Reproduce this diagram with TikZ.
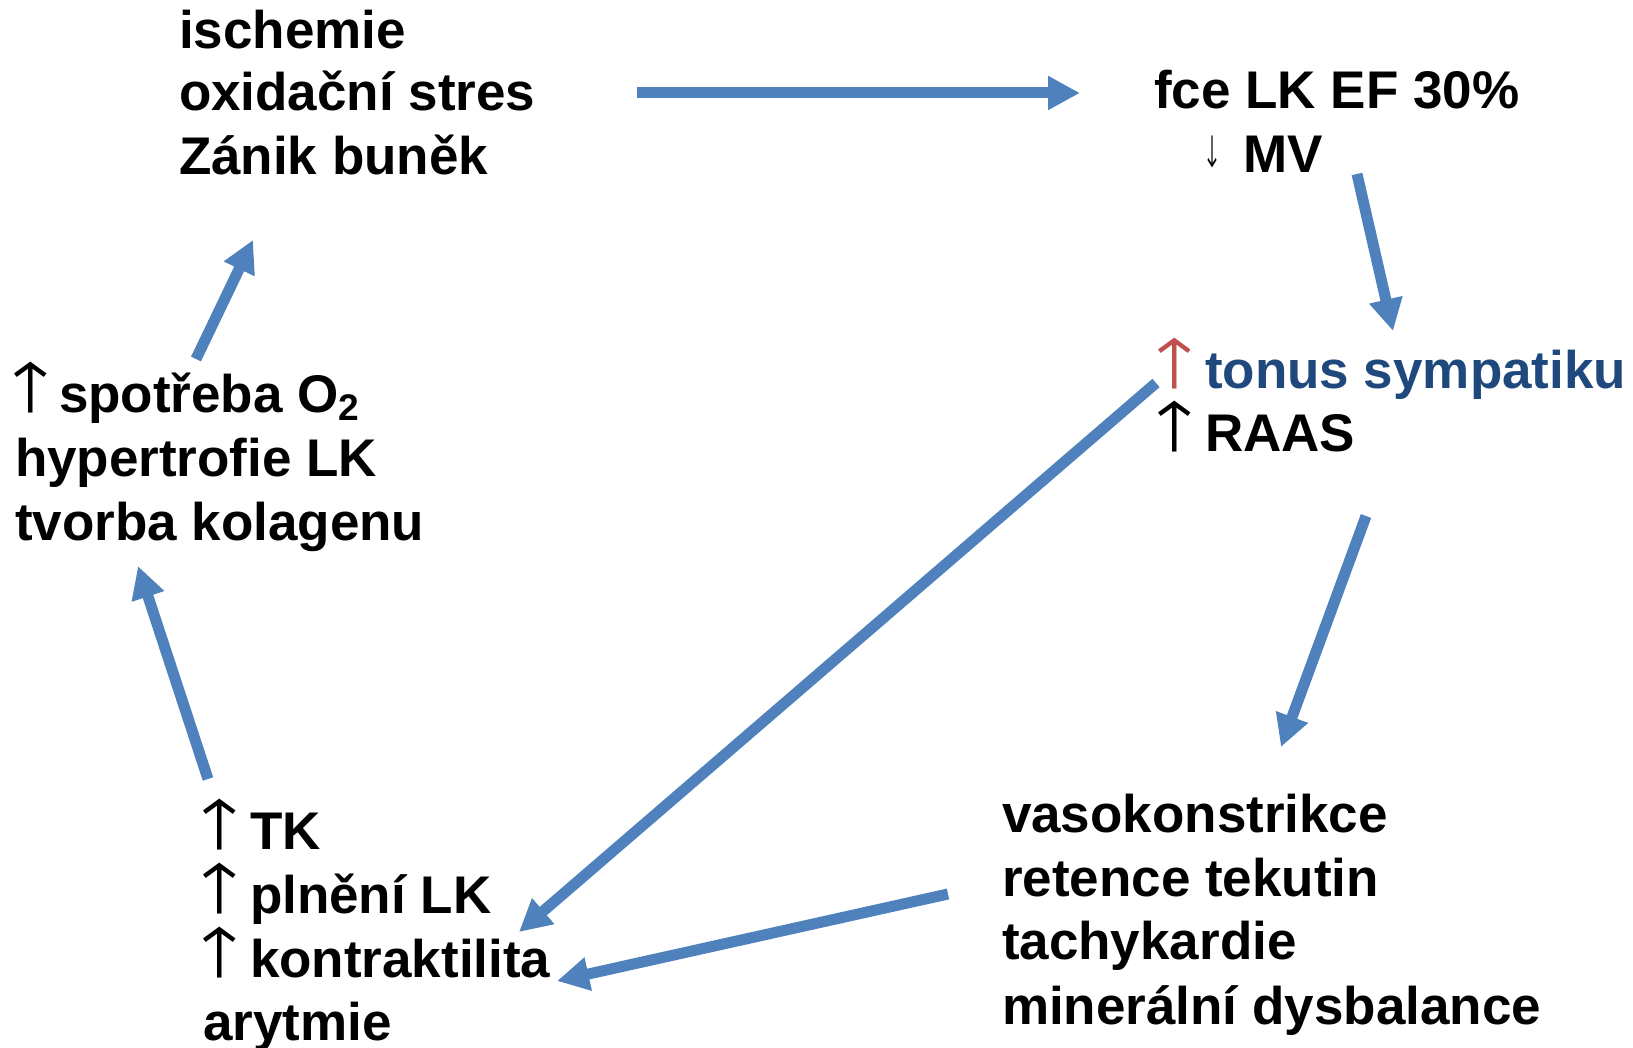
\documentclass[tikz,border=0pt]{standalone}
\usepackage{fontspec}
\usepackage{graphicx}
\setmainfont{Liberation Sans}
\newfontfamily\arrfont{TeX Gyre Heros}
\usetikzlibrary{arrows.meta}
\definecolor{arrblue}{HTML}{4F81BD}
\definecolor{txtblue}{HTML}{1F497D}
\definecolor{arrred}{HTML}{C0504D}
\newcommand{\bigup}{\resizebox*{!}{25.5pt}{\arrfont ↑}}
\newcommand{\smalldown}{\resizebox*{7pt}{16pt}{\arrfont ↓}}
\tikzset{
  lbl/.style={anchor=base west, inner sep=0pt, outer sep=0pt, font=\fontsize{26.5pt}{32pt}\selectfont\bfseries},
  upar/.style={anchor=south west, inner sep=0pt, outer sep=0pt, font=\fontsize{26.5pt}{32pt}\selectfont},
  flow/.style={draw=arrblue, line width=5.5pt, -{Triangle[length=16pt,width=16pt]}}
}
\begin{document}
\begin{tikzpicture}[x=0.5pt,y=-0.5pt]
\useasboundingbox (0,0) rectangle (1633,1048);
% top left block
\node[lbl] (a1) at (179,49) {ischemie};
\node[lbl] (a2) at (179,111) {oxidační stres};
\node[lbl] (a3) at (179,175) {Zánik buněk};
% top right block
\node[lbl] (b1) at (1154,109) {fce LK EF 30\%};
\node[upar] (b2a) at (1205,168) {\smalldown};
\node[lbl] (b2) at (1243,173) {MV};
% right middle block
\node[upar, text=arrred] (c1a) at (1149,389) {\bigup};
\node[lbl, text=txtblue] (c1) at (1205,388) {tonus sympatiku};
\node[upar] (c2a) at (1149,452) {\bigup};
\node[lbl] (c2) at (1205,451) {RAAS};
% left middle block
\node[upar] (d1a) at (5,413) {\bigup};
\node[lbl] (d1) at (59,412) {spotřeba O\textsubscript{2}};
\node[lbl] (d2) at (15,476) {hypertrofie LK};
\node[lbl] (d3) at (15,540) {tvorba kolagenu};
% bottom left block
\node[upar] (e1a) at (194,850) {\bigup};
\node[lbl] (e1) at (250,849) {TK};
\node[upar] (e2a) at (194,914) {\bigup};
\node[lbl] (e2) at (250,913) {plnění LK};
\node[upar] (e3a) at (194,978) {\bigup};
\node[lbl] (e3) at (250,977) {kontraktilita};
\node[lbl] (e4) at (203,1040) {arytmie};
% bottom right block
\node[lbl] (f1) at (1002,832) {vasokonstrikce};
\node[lbl] (f2) at (1002,896) {retence tekutin};
\node[lbl] (f3) at (1002,959) {tachykardie};
\node[lbl] (f4) at (1002,1024) {minerální dysbalance};
% arrow endpoints
\coordinate (p1s) at (637,93);   \coordinate (p1e) at (1080,93);
\coordinate (p2s) at (1357,174); \coordinate (p2e) at (1393,331);
\coordinate (p3s) at (1156,383); \coordinate (p3e) at (519,932);
\coordinate (p4s) at (1366,516); \coordinate (p4e) at (1281,747);
\coordinate (p5s) at (948,894);  \coordinate (p5e) at (557,981);
\coordinate (p6s) at (208,779);  \coordinate (p6e) at (138,566);
\coordinate (p7s) at (196,359);  \coordinate (p7e) at (253,240);
\draw[flow] (p1s) -- (p1e);
\draw[flow] (p2s) -- (p2e);
\draw[flow] (p3s) -- (p3e);
\draw[flow] (p4s) -- (p4e);
\draw[flow] (p5s) -- (p5e);
\draw[flow] (p6s) -- (p6e);
\draw[flow] (p7s) -- (p7e);
\end{tikzpicture}
\end{document}
